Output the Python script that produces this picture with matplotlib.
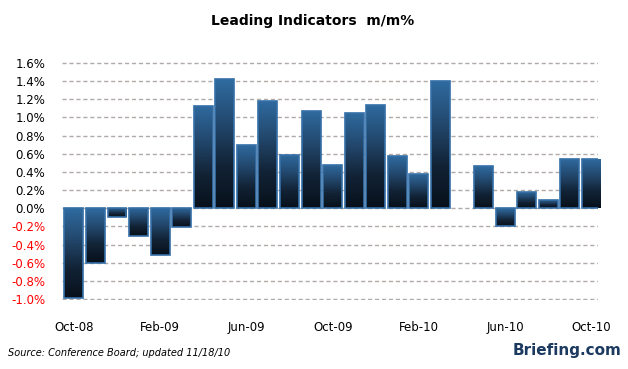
import numpy as np
import matplotlib
matplotlib.use("Agg")
import matplotlib.pyplot as plt
from matplotlib.colors import LinearSegmentedColormap

months = ["Oct-08", "Nov-08", "Dec-08", "Jan-09", "Feb-09", "Mar-09", "Apr-09", "May-09",
          "Jun-09", "Jul-09", "Aug-09", "Sep-09", "Oct-09", "Nov-09", "Dec-09", "Jan-10",
          "Feb-10", "Mar-10", "Apr-10", "May-10", "Jun-10", "Jul-10", "Aug-10", "Sep-10", "Oct-10"]
values = [-0.99, -0.60, -0.10, -0.31, -0.51, -0.21, 1.13, 1.42,
          0.70, 1.18, 0.59, 1.07, 0.48, 1.05, 1.14, 0.57,
          0.38, 1.40, 0.0, 0.46, -0.19, 0.18, 0.09, 0.54, 0.54]
tick_labels = ["Oct-08", "Feb-09", "Jun-09", "Oct-09", "Feb-10", "Jun-10", "Oct-10"]
yticks = [-1.0, -0.8, -0.6, -0.4, -0.2, 0.0, 0.2, 0.4, 0.6, 0.8, 1.0, 1.2, 1.4, 1.6]

fig = plt.figure(figsize=(6.28, 3.69), dpi=100)
W, H = 628, 369
ax = fig.add_axes([62 / W, 1 - 300 / H, (598 - 62) / W, (300 - 62) / H])

x = np.arange(len(values))
cmap = LinearSegmentedColormap.from_list("g", ["#07101a", "#122336", "#23496f", "#2f6ba0"])
grad = np.linspace(0, 1, 256).reshape(-1, 1)

bars = ax.bar(x, values, width=0.88, color="none", edgecolor="#3570a8", linewidth=1.2, zorder=3)
for b, v in zip(bars, values):
    if v == 0:
        b.set_visible(False)
        continue
    x0 = b.get_x()
    w = b.get_width()
    y0 = min(0, v)
    y1 = max(0, v)
    im = ax.imshow(grad, cmap=cmap, origin="lower", aspect="auto",
                   extent=(x0, x0 + w, y0, y1), zorder=2, interpolation="bilinear")
    im.set_clip_path(b)

ax.set_xlim(-0.55, 24.3)
ax.set_ylim(-1.01, 1.61)
ax.set_yticks(yticks)
ax.set_yticklabels([f"{t:.1f}%" for t in yticks])
for lbl, t in zip(ax.get_yticklabels(), yticks):
    lbl.set_color("red" if t < 0 else "black")
ax.set_xticks([months.index(m) for m in tick_labels])
ax.set_xticklabels(tick_labels)
ax.tick_params(axis="both", length=0, labelsize=8.5)
ax.tick_params(axis="y", pad=12)
ax.tick_params(axis="x", pad=15)
for s in ax.spines.values():
    s.set_visible(False)
ax.yaxis.grid(True, linestyle=(0, (3, 2)), color="#b0aaa8", linewidth=1.0, zorder=1)
ax.set_axisbelow(True)

fig.text(313 / W, 1 - 21 / H, "Leading Indicators  m/m%", ha="center", va="center",
         fontsize=10, fontweight="bold")
fig.text(8 / W, 1 - 353 / H, "Source: Conference Board; updated 11/18/10", ha="left",
         va="center", fontsize=7, style="italic")
fig.text(622 / W, 1 - 351 / H, "Briefing.com", ha="right", va="center", fontsize=11,
         fontweight="bold", color="#1c3a60")

fig.savefig("out.png", dpi=100)
